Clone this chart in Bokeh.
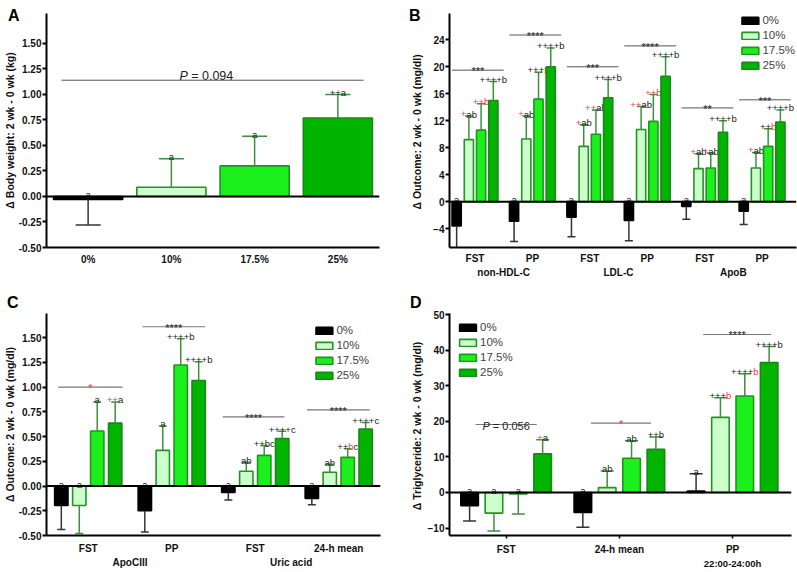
from bokeh.plotting import figure
from bokeh.models import (ColumnDataSource, Range1d, FixedTicker, LinearAxis, Span,
                          Legend, LegendItem, NumeralTickFormatter, Div)
from bokeh.layouts import column, row
from bokeh.embed import file_html
from bokeh.resources import INLINE
from bokeh.core.properties import value

FONT = "Liberation Sans"
SERIES = ["0%", "10%", "17.5%", "25%"]
FILL = ["#000000", "#ccffcc", "#1cf01c", "#00b400"]
LINE = ["#000000", "#229422", "#1f941f", "#1b861b"]
ERRC = ["#333333", "#3f8f3f", "#3f8f3f", "#3f8f3f"]
RED = "#f03c3c"
TXT = "#222222"

PANEL_LETTERS = ["A", "B", "C", "D"]

# ---------------- Panel A ----------------
A_cats = ["0%", "10%", "17.5%", "25%"]
A_mean = [-0.03, 0.09, 0.30, 0.77]
A_err = [0.25, 0.28, 0.29, 0.23]
A_lab = ["a", "a", "a", "++a"]
A_sig_text = ["[P] = 0.094"]
A_yticks = [-0.5, -0.25, 0, 0.25, 0.5, 0.75, 1.0, 1.25, 1.5]

# ---------------- Panel B ----------------
B_cats = ["FST", "PP", "FST", "PP", "FST", "PP"]
B_groups = ["non-HDL-C", "LDL-C", "ApoB"]
B_m0 = [-3.6, -2.9, -2.3, -2.8, -0.7, -1.4]
B_e0 = [3.4, 3.0, 2.9, 3.0, 1.9, 2.0]
B_m10 = [9.2, 9.3, 8.2, 10.7, 4.9, 5.0]
B_e10 = [3.5, 3.4, 3.2, 3.4, 2.2, 2.3]
B_m17 = [10.6, 15.2, 10.0, 11.9, 5.0, 8.2]
B_e17 = [3.9, 4.0, 3.6, 4.0, 2.2, 2.6]
B_m25 = [15.0, 20.0, 15.4, 18.6, 10.3, 11.8]
B_e25 = [2.8, 2.8, 2.7, 2.9, 1.7, 1.8]
B_l0 = ["a", "a", "a", "a", "a", "a"]
B_l10 = ["{+}ab", "{+}ab", "{+}ab", "{++}ab", "{+}ab", "{+}ab"]
B_l17 = ["{++b}", "+++{b}", "{++}ab", "{++b}", "{+}ab", "++{b}"]
B_l25 = ["++++b", "++++b", "++++b", "++++b", "++++b", "++++b"]
B_sig = ["***", "****", "***", "****", "**", "***"]
B_sig_y = [19.5, 24.7, 20.0, 23.1, 13.9, 15.1]
B_yticks = [-4, 0, 4, 8, 12, 16, 20, 24]

# ---------------- Panel C ----------------
C_cats = ["FST", "PP", "FST", "24-h mean"]
C_groups = ["ApoCIII", "Uric acid"]
C_m0 = [-0.197, -0.25, -0.066, -0.125]
C_e0 = [0.243, 0.215, 0.074, 0.065]
C_m10 = [-0.197, 0.36, 0.15, 0.14]
C_e10 = [0.283, 0.247, 0.09, 0.08]
C_m17 = [0.557, 1.223, 0.31, 0.29]
C_e17 = [0.293, 0.267, 0.10, 0.087]
C_m25 = [0.636, 1.066, 0.48, 0.577]
C_e25 = [0.214, 0.19, 0.074, 0.066]
C_l0 = ["a", "a", "a", "a"]
C_l10 = ["a", "a", "ab", "ab"]
C_l17 = ["a", "++++b", "++bc", "++{b}c"]
C_l25 = ["{++}a", "++++b", "++++c", "++++c"]
C_sig = ["{*}", "****", "****", "****"]
C_sig_y = [1.0, 1.61, 0.70, 0.77]
C_yticks = [-0.5, -0.25, 0, 0.25, 0.5, 0.75, 1.0, 1.25, 1.5]

# ---------------- Panel D ----------------
D_cats = ["FST", "24-h mean", "PP"]
D_sub = ["22:00-24:00h"]
D_m0 = [-3.7, -5.6, 0.36]
D_e0 = [4.3, 4.2, 4.9]
D_m10 = [-5.8, 1.36, 21.1]
D_e10 = [5.0, 4.7, 5.5]
D_m17 = [-0.45, 9.6, 27.1]
D_e17 = [5.6, 4.9, 6.3]
D_m25 = [10.85, 12.1, 36.5]
D_e25 = [3.95, 3.5, 4.5]
D_l0 = ["a", "a", "a"]
D_l10 = ["a", "ab", "+++{b}"]
D_l17 = ["a", "ab", "++++{b}"]
D_l25 = ["{+}a", "++b", "++++b"]
D_sig = ["[P] = 0.056", "{*}", "****"]
D_sig_y = [19.1, 19.5, 44.4]
D_yticks = [-10, 0, 10, 20, 30, 40, 50]

# ---------------- helpers ----------------
CW = {"+": 0.584, "a": 0.556, "b": 0.556, "c": 0.5, "*": 0.389, "P": 0.667,
      " ": 0.278, "=": 0.584, ".": 0.278}


def cw(ch):
    return CW.get(ch, 0.556)


def parse(s):
    parts, buf, mode = [], "", "n"
    for ch in s:
        if ch in "{[":
            if buf:
                parts.append((buf, mode))
            buf, mode = "", ("r" if ch == "{" else "i")
        elif ch in "}]":
            parts.append((buf, mode))
            buf, mode = "", "n"
        else:
            buf += ch
    if buf:
        parts.append((buf, mode))
    return parts


def rich(p, xs, ys, strings, size, yoff):
    cols = dict(x=[], y=[], t=[], xo=[], c=[], st=[])
    for x, y, s in zip(xs, ys, strings):
        parts = parse(s)
        total = sum(cw(ch) for t, _ in parts for ch in t) * size
        off = -total / 2
        for t, m in parts:
            cols["x"].append(x)
            cols["y"].append(y)
            cols["t"].append(t.replace(" ", "\u00a0"))
            cols["xo"].append(off)
            cols["c"].append(RED if m == "r" else TXT)
            cols["st"].append("italic" if m == "i" else "normal")
            off += sum(cw(ch) for ch in t) * size
    p.text(x="x", y="y", text="t", x_offset="xo", y_offset=yoff, text_color="c",
           text_font_style="st", text_font=value(FONT), text_font_size=value(f"{size}px"),
           text_align="left", text_baseline="alphabetic", source=ColumnDataSource(cols))


def panel(width, height, xr, yr, borders):
    p = figure(width=width, height=height, x_range=Range1d(*xr), y_range=Range1d(*yr),
               output_backend="svg", toolbar_location=None, tools="")
    (p.min_border_left, p.min_border_right, p.min_border_top, p.min_border_bottom) = borders
    p.grid.visible = False
    p.outline_line_color = None
    p.background_fill_color = None
    p.border_fill_color = None
    p.add_layout(Span(location=0, dimension="width", line_color="black", line_width=2))
    return p


def yaxis(p, ticks, fmt, label, label_standoff=0):
    ya = p.yaxis[0]
    ya.ticker = FixedTicker(ticks=ticks, minor_ticks=[])
    if fmt:
        ya.formatter = NumeralTickFormatter(format=fmt)
    ya.axis_label = label
    ya.axis_label_text_font = FONT
    ya.axis_label_text_font_size = "10.5px"
    ya.axis_label_text_font_style = "bold"
    ya.axis_label_text_color = "#111111"
    ya.axis_label_standoff = label_standoff
    ya.major_label_text_font = FONT
    ya.major_label_text_font_size = "10px"
    ya.major_label_text_font_style = "bold"
    ya.major_label_text_color = "#111111"
    ya.major_label_standoff = 1
    ya.axis_line_width = 2
    ya.major_tick_line_width = 2
    ya.major_tick_out = 4
    ya.major_tick_in = 0
    ya.minor_tick_line_color = None


def xaxis(p, ticks, labels, tick_out=0, standoff=6):
    xa = p.xaxis[0]
    xa.ticker = FixedTicker(ticks=ticks, minor_ticks=[])
    xa.major_label_overrides = {t: l for t, l in zip(ticks, labels)}
    xa.axis_line_width = 2
    xa.major_tick_out = tick_out
    xa.major_tick_in = 0
    xa.major_tick_line_width = 1.5
    if tick_out == 0:
        xa.major_tick_line_color = None
    xa.minor_tick_line_color = None
    xa.major_label_standoff = standoff
    xa.major_label_text_font = FONT
    xa.major_label_text_font_size = "10px"
    xa.major_label_text_font_style = "bold"
    xa.major_label_text_color = "#111111"


def xaxis2(p, ticks, labels, size):
    ax = LinearAxis(ticker=FixedTicker(ticks=ticks, minor_ticks=[]),
                    major_label_overrides={t: l for t, l in zip(ticks, labels)},
                    axis_line_color=None, major_tick_line_color=None,
                    minor_tick_line_color=None, major_tick_out=0, major_tick_in=0,
                    major_label_standoff=0, major_label_text_font=FONT,
                    major_label_text_font_size=size, major_label_text_font_style="bold",
                    major_label_text_color="#111111")
    p.add_layout(ax, "below")


def bars(p, xs, means, errs, k, width, capw, labels):
    r = p.vbar(x=xs, top=means, bottom=0, width=width, fill_color=FILL[k],
               line_color=LINE[k], line_width=1.6)
    ends = [m + e if m >= 0 else m - e for m, e in zip(means, errs)]
    p.segment(x0=xs, y0=means, x1=xs, y1=ends, line_color=ERRC[k], line_width=1.5)
    p.segment(x0=[x - capw / 2 for x in xs], y0=ends, x1=[x + capw / 2 for x in xs],
              y1=ends, line_color=ERRC[k], line_width=1.5)
    ly = [e if m >= 0 else 0 for m, e in zip(means, ends)]
    rich(p, xs, ly, labels, 9.5, -2)
    return r


def sig(p, x0s, x1s, ys, texts, colors, widths, size, yoff, txs=None):
    p.segment(x0=x0s, y0=ys, x1=x1s, y1=ys, line_color=colors, line_width=widths)
    if txs is None:
        txs = [(a + b) / 2 for a, b in zip(x0s, x1s)]
    rich(p, txs, ys, texts, size, yoff)


def legend(p, rs, loc, margin):
    lg = Legend(items=[LegendItem(label=s, renderers=[r]) for s, r in zip(SERIES, rs)],
                location=loc, margin=margin, padding=0, spacing=3, glyph_width=21,
                glyph_height=9, label_standoff=2, label_height=9,
                label_text_font=FONT, label_text_font_size="11.5px",
                border_line_color=None, background_fill_alpha=0)
    p.add_layout(lg)


# ---------------- build A ----------------
pA = panel(400, 286, (-0.5, 3.5), (-0.5, 1.794), (42, 21, 13, 39))
yaxis(pA, A_yticks, "0.00", "Δ Body weight: 2 wk - 0 wk (kg)")
xA = list(range(len(A_cats)))
xaxis(pA, xA, A_cats, standoff=6)
for k in range(4):
    bars(pA, [xA[k]], [A_mean[k]], [A_err[k]], k, 0.83, 0.3, [A_lab[k]])
sig(pA, [-0.32], [3.31], [1.14], A_sig_text, ["#555555"], [1], 12.5, -4, txs=[1.42])

# ---------------- build B ----------------
pB = panel(397, 286, (-0.444, 5.6), (-6.8, 27.9), (49, 1, 13, 39))
yaxis(pB, B_yticks, None, "Δ  Outcome: 2 wk - 0 wk (mg/dl)", label_standoff=7)
gB = list(range(len(B_cats)))
xaxis(pB, gB, B_cats, standoff=5)
xaxis2(pB, [0.5, 2.5, 4.5], B_groups, "10px")
rB = []
for k, (m, e, l) in enumerate([(B_m0, B_e0, B_l0), (B_m10, B_e10, B_l10),
                               (B_m17, B_e17, B_l17), (B_m25, B_e25, B_l25)]):
    xs = [g + (k - 1.5) * 0.213 for g in gB]
    rB.append(bars(pB, xs, m, e, k, 0.16, 0.14, l))
sig(pB, [g - 0.4 for g in gB], [min(g + 0.5, 5.5) for g in gB], B_sig_y, B_sig,
    ["#555555", "#aaaaaa", "#555555", "#555555", "#555555", "#555555"],
    [1, 2, 1, 1, 1, 1], 11, 1)
legend(pB, rB, "top_right", 1)

# ---------------- build C ----------------
pC = panel(400, 285, (-0.5, 3.5), (-0.5, 1.744), (42, 20, 27, 31))
yaxis(pC, C_yticks, "0.00", "Δ Outcome: 2 wk - 0 wk (mg/dl)")
gC = list(range(len(C_cats)))
xaxis(pC, gC, C_cats, standoff=7)
xaxis2(pC, [0.5, 2.43], C_groups, "10px")
rC = []
for k, (m, e, l) in enumerate([(C_m0, C_e0, C_l0), (C_m10, C_e10, C_l10),
                               (C_m17, C_e17, C_l17), (C_m25, C_e25, C_l25)]):
    xs = [g + (k - 1.5) * 0.215 for g in gC]
    rC.append(bars(pC, xs, m, e, k, 0.16, 0.095, l))
sig(pC, [-0.36, 0.65, 1.61, 2.62], [0.41, 1.40, 2.35, 3.37], C_sig_y, C_sig,
    "#777777", 1.2, 11, 1)
legend(pC, rC, "top_right", 11)

# ---------------- build D ----------------
pD = panel(397, 285, (-0.5, 2.52), (-12.1, 50.3), (49, 6, 27, 31))
yaxis(pD, D_yticks, None, "Δ  Triglyceride: 2 wk - 0 wk (mg/dl)", label_standoff=2)
gD = list(range(len(D_cats)))
xaxis(pD, gD, D_cats, tick_out=3, standoff=5)
xaxis2(pD, [2], D_sub, "9.5px")
rD = []
for k, (m, e, l) in enumerate([(D_m0, D_e0, D_l0), (D_m10, D_e10, D_l10),
                               (D_m17, D_e17, D_l17), (D_m25, D_e25, D_l25)]):
    xs = [g + (k - 1.5) * 0.215 for g in gD]
    rD.append(bars(pD, xs, m, e, k, 0.155, 0.115, l))
sig(pD, [-0.27, 0.75, 1.74], [0.27, 1.28, 2.34], D_sig_y, D_sig, "#777777", 1.2, 11, 1)
legend(pD, rD, "top_left", 8)

# ---------------- panel letters (HTML text, absolutely positioned) ----------------
LETTER_POS = [(3, 3), (404, 3), (2, 290), (405, 290)]
spans = "".join(
    f'<span style="position:absolute;left:{x}px;top:{y}px;font-family:\'Liberation Sans\';'
    f'font-size:16px;font-weight:bold;line-height:1;color:#000;z-index:10">{t}</span>'
    for t, (x, y) in zip(PANEL_LETTERS, LETTER_POS))
letters = Div(text=spans, width=1, height=0,
              styles={"position": "absolute", "left": "0px", "top": "0px",
                      "overflow": "visible", "z-index": "10"})

layout = column(letters, row(pA, pB), row(pC, pD))
open("out.html", "w").write(file_html(layout, INLINE))
